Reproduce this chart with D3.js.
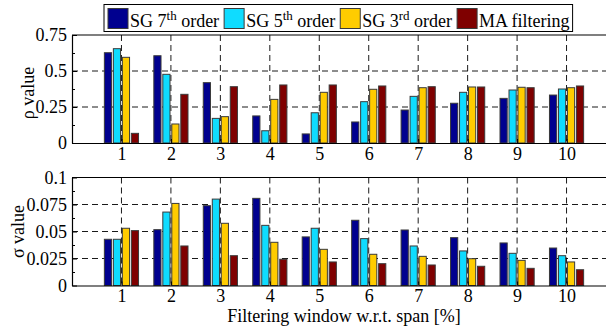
<!DOCTYPE html>
<html>
<head>
<meta charset="utf-8">
<script src="https://cdn.jsdelivr.net/npm/d3@7"></script>
<style>
  html, body { margin: 0; padding: 0; background: #fff; }
  svg { display: block; }
  svg text { font-family: "Liberation Serif", "Times New Roman", serif; }
</style>
</head>
<body>
<svg id="chart" width="606" height="330"></svg>
<script>
// window sizes (% of span) on the x axis
const categories = [1, 2, 3, 4, 5, 6, 7, 8, 9, 10]
const seriesKeys = ['sg7', 'sg5', 'sg3', 'ma']
const legendLabels = [['SG 7', 'th', ' order'], ['SG 5', 'th', ' order'], ['SG 3', 'rd', ' order'], ['MA filtering', '', '']]

// rho value per series
const sg7Rho = [0.627, 0.606, 0.419, 0.188, 0.063, 0.146, 0.229, 0.276, 0.310, 0.333]
const sg5Rho = [0.655, 0.477, 0.171, 0.085, 0.210, 0.287, 0.324, 0.352, 0.368, 0.375]
const sg3Rho = [0.595, 0.132, 0.183, 0.303, 0.352, 0.373, 0.384, 0.389, 0.387, 0.384]
const maRho = [0.067, 0.338, 0.391, 0.403, 0.403, 0.396, 0.391, 0.389, 0.384, 0.396]

// sigma value per series
const sg7Sigma = [0.0428, 0.0517, 0.0739, 0.0807, 0.0450, 0.0604, 0.0514, 0.0443, 0.0394, 0.0347]
const sg5Sigma = [0.0428, 0.0680, 0.0800, 0.0557, 0.0530, 0.0434, 0.0366, 0.0320, 0.0298, 0.0276]
const sg3Sigma = [0.0530, 0.0760, 0.0576, 0.0400, 0.0335, 0.0289, 0.0270, 0.0248, 0.0233, 0.0218]
const maSigma = [0.0508, 0.0366, 0.0276, 0.0243, 0.0218, 0.0202, 0.0190, 0.0178, 0.0159, 0.0146]

const rhoTicks = [0, 0.25, 0.5, 0.75]
const rhoTickLabels = ['0', '0.25', '0.5', '0.75']
const sigmaTicks = [0, 0.025, 0.05, 0.075, 0.1]
const sigmaTickLabels = ['0', '0.025', '0.05', '0.075', '0.1']

const COLORS = {
  sg7: '#00008f',
  sg5: '#0fdcff',
  sg3: '#ffcc00',
  ma: '#7f0000',
}

const svg = d3.select('#chart')
const FONT = 18
const SERIF = '"Liberation Serif", "Times New Roman", serif'
const left = 72
const right = 616

const x = d3.scaleLinear().domain([0, 11]).range([left, right])
const step = x(1) - x(0)
const groupWidth = step * 4 / 5.5
const band = d3.scaleBand().domain(seriesKeys).range([-groupWidth / 2, groupWidth / 2]).paddingInner(0.2).paddingOuter(0.1)

const styleText = (sel) => sel
  .style('font-family', SERIF)
  .style('font-size', FONT + 'px')
  .attr('fill', '#000')

function panel(opts) {
  const { top, bottom, max, ticks, tickLabels, rows, ylabel, ylabelX, ylabelShift } = opts
  const y = d3.scaleLinear().domain([0, max]).range([bottom, top])
  const g = svg.append('g')

  // dashed grid, under the bars
  const grid = g.append('g').attr('stroke', '#000').attr('stroke-width', 0.9).attr('stroke-dasharray', '6,4')
  grid.selectAll('line.h')
    .data(ticks.filter((t) => t > 0 && t < max))
    .join('line')
    .attr('x1', left).attr('x2', right)
    .attr('y1', (d) => y(d)).attr('y2', (d) => y(d))
  grid.selectAll('line.v')
    .data(categories)
    .join('line')
    .attr('x1', (d) => x(d)).attr('x2', (d) => x(d))
    .attr('y1', top).attr('y2', bottom)

  // bars
  const data = []
  seriesKeys.forEach((k, si) => {
    rows[si].forEach((v, i) => data.push({ key: k, cat: categories[i], value: v }))
  })
  g.append('g')
    .selectAll('rect')
    .data(data)
    .join('rect')
    .attr('x', (d) => x(d.cat) + band(d.key))
    .attr('width', band.bandwidth())
    .attr('y', (d) => y(d.value))
    .attr('height', (d) => y(0) - y(d.value))
    .attr('fill', (d) => COLORS[d.key])
    .attr('stroke', '#3a3a3a')
    .attr('stroke-width', 1)

  // y axis, ticks pointing inward
  const yAxis = d3.axisLeft(y)
    .tickValues(ticks)
    .tickFormat((d, i) => tickLabels[i])
    .tickSizeInner(-5)
    .tickSizeOuter(0)
    .tickPadding(5)
  const ya = g.append('g').attr('transform', `translate(${left},0)`).call(yAxis)
  ya.attr('font-family', null).attr('font-size', null)
  ya.selectAll('text').call(styleText)
  ya.select('.domain').attr('stroke', '#000').attr('stroke-width', 1.2)

  const minor = d3.pairs(ticks).map(([a, b]) => (a + b) / 2)
  g.append('g').attr('transform', `translate(${left},0)`)
    .call(d3.axisLeft(y).tickValues(minor).tickFormat('').tickSizeInner(-3).tickSizeOuter(0))
    .select('.domain').remove()

  // x axis
  const xAxis = d3.axisBottom(x).tickValues(categories).tickSizeInner(-4).tickSizeOuter(0).tickPadding(4)
  const xa = g.append('g').attr('transform', `translate(0,${bottom})`).call(xAxis)
  xa.attr('font-family', null).attr('font-size', null)
  xa.selectAll('text').call(styleText)
  xa.select('.domain').attr('stroke', '#000').attr('stroke-width', 1.2)

  // box top
  g.append('line')
    .attr('x1', left).attr('x2', right)
    .attr('y1', top).attr('y2', top)
    .attr('stroke', '#000').attr('stroke-width', 1.2)

  g.append('text')
    .attr('transform', `translate(${ylabelX},${(top + bottom) / 2 + ylabelShift}) rotate(-90)`)
    .attr('text-anchor', 'middle')
    .call(styleText)
    .text(ylabel)
}

panel({
  top: 35, bottom: 143, max: 0.75,
  ticks: rhoTicks, tickLabels: rhoTickLabels,
  rows: [sg7Rho, sg5Rho, sg3Rho, maRho],
  ylabel: 'ρ value', ylabelX: 34, ylabelShift: 4,
})

panel({
  top: 177.5, bottom: 285.5, max: 0.1,
  ticks: sigmaTicks, tickLabels: sigmaTickLabels,
  rows: [sg7Sigma, sg5Sigma, sg3Sigma, maSigma],
  ylabel: 'σ value', ylabelX: 24, ylabelShift: 0,
})

svg.append('text')
  .attr('x', (x(1) + x(10)) / 2)
  .attr('y', 322)
  .attr('text-anchor', 'middle')
  .call(styleText)
  .text('Filtering window w.r.t. span [%]')

// legend
const legend = svg.append('g')
const legendBox = legend.append('rect')
  .attr('fill', '#fff').attr('stroke', '#000').attr('stroke-width', 1)
let cursor = 108
seriesKeys.forEach((k, i) => {
  legend.append('rect')
    .attr('x', cursor).attr('y', 8.5)
    .attr('width', 20).attr('height', 20)
    .attr('fill', COLORS[k]).attr('stroke', '#3a3a3a').attr('stroke-width', 1)
  const [base, sup, rest] = legendLabels[i]
  const t = legend.append('text')
    .attr('x', cursor + 22).attr('y', 27)
    .call(styleText)
  t.append('tspan').text(base)
  if (sup) {
    t.append('tspan').style('font-size', '13px').attr('dy', -7).text(sup)
    t.append('tspan').attr('dy', 7).text(rest)
  }
  cursor += 22 + t.node().getComputedTextLength() + 5
})
legendBox
  .attr('x', 104).attr('y', 4.5)
  .attr('width', cursor - 104 - 2).attr('height', 27)
</script>
</body>
</html>
